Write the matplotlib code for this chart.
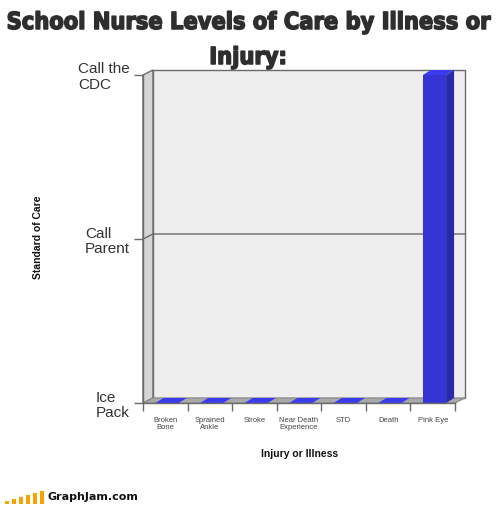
import matplotlib
matplotlib.use('Agg')
import matplotlib.pyplot as plt
from matplotlib.patches import Polygon, Rectangle
import matplotlib.patheffects as pe

categories = ["Broken\nBone", "Sprained\nAnkle", "Stroke", "Near Death\nExperience",
              "STD", "Death", "Pink Eye"]
care_levels = [0, 0, 0, 0, 0, 0, 2]
level_labels = ["Ice\nPack", "Call\nParent", "Call the\nCDC"]
title_lines = ["School Nurse Levels of Care by Illness or", "Injury:"]
x_title = "Injury or Illness"
y_title = "Standard of Care"
logo_heights = [3, 5, 7, 9, 11, 13]

W, H = 500, 505
fig = plt.figure(figsize=(W / 100, H / 100), dpi=100)
fig.patch.set_facecolor('white')

# front plane of the pseudo-3D chart
ax_l, ax_r, ax_t, ax_b = 143, 455, 75, 403
ax = fig.add_axes([ax_l / W, (H - ax_b) / H, (ax_r - ax_l) / W, (ax_b - ax_t) / H])
n = len(categories)
ymax = len(level_labels) - 1
ax.set_xlim(0, n)
ax.set_ylim(0, ymax)
ax.patch.set_visible(False)

# depth offsets (pixels -> data units)
ux = n / (ax_r - ax_l)
uy = ymax / (ax_b - ax_t)
wdx, wdy = 10 * ux, 5 * uy
bdx, bdy = 8 * ux, 5 * uy

edge = '#6a6a6a'
# back wall
ax.add_patch(Rectangle((wdx, wdy), n, ymax, fc='#eeeeee', ec=edge, lw=1,
                       clip_on=False, zorder=0.5))
# left wall
ax.add_patch(Polygon([(0, 0), (wdx, wdy), (wdx, ymax + wdy), (0, ymax)],
                     closed=True, fc='#d5d5d5', ec=edge, lw=1, clip_on=False, zorder=0.6))
# floor
ax.add_patch(Polygon([(0, 0), (n, 0), (n + wdx, wdy), (wdx, wdy)],
                     closed=True, fc='#a8a8a8', ec='#8a8a8a', lw=0.8, clip_on=False, zorder=0.7))
# gridlines
for lv in range(1, ymax):
    ax.plot([0, wdx, n + wdx], [lv, lv + wdy, lv + wdy], color=edge, lw=1,
            clip_on=False, zorder=0.8)

# bars
bw, boff = 0.52, 0.28
for i, v in enumerate(care_levels):
    x0 = i + boff
    x1 = x0 + bw
    ax.add_patch(Polygon([(x0, v), (x1, v), (x1 + bdx, v + bdy), (x0 + bdx, v + bdy)],
                         closed=True, fc='#3c3cef', ec='none', clip_on=False, zorder=1.2))
    if v > 0:
        ax.add_patch(Polygon([(x1, 0), (x1 + bdx, bdy), (x1 + bdx, v + bdy), (x1, v)],
                             closed=True, fc='#2a2aa8', ec='none', clip_on=False, zorder=1.1))
        ax.add_patch(Rectangle((x0, 0), bw, v, fc='#3535d6', ec='none',
                               clip_on=False, zorder=1.15))

# spines
for s in ['top', 'right']:
    ax.spines[s].set_visible(False)
for s in ['left', 'bottom']:
    ax.spines[s].set_color(edge)
    ax.spines[s].set_linewidth(1)

# y ticks
ax.set_yticks(range(ymax + 1))
ax.set_yticklabels(level_labels, fontsize=11, color='#333333', family='Liberation Sans',
                   linespacing=1.15)
for t in ax.get_yticklabels():
    t.set_multialignment('left')
ax.tick_params(axis='y', length=6.5, width=1, color=edge, pad=3)

# x ticks
ax.set_xticks(range(n + 1))
ax.set_xticklabels([''] * (n + 1))
ax.set_xticks([i + 0.5 for i in range(n)], minor=True)
ax.set_xticklabels(categories, minor=True, fontsize=5.5, color='#444444',
                   family='Liberation Sans', linespacing=1.1)
ax.tick_params(axis='x', which='major', length=6, width=1, color=edge)
ax.tick_params(axis='x', which='minor', length=0, pad=10)

ax.set_xlabel(x_title, fontsize=7.5, fontweight='bold', family='Liberation Sans', color='#111111')
ax.xaxis.set_label_coords((300 - ax_l) / (ax_r - ax_l), (ax_b - 449) / (ax_b - ax_t))
ax.set_ylabel(y_title, fontsize=7.5, fontweight='bold', family='Liberation Sans', color='#111111')
ax.yaxis.label.set_verticalalignment('center')
ax.yaxis.set_label_coords((38 - ax_l) / (ax_r - ax_l), (ax_b - 237) / (ax_b - ax_t))

# title (fit first line to reference width)
tkw = dict(ha='center', va='top', fontweight='bold', fontstretch='condensed',
           family=['DejaVu Sans', 'Liberation Sans'], color='#2e2e2e', zorder=10,
           path_effects=[pe.withStroke(linewidth=1.1, foreground='#2e2e2e')])
t1 = fig.text(0.496, 1 - 11 / H, title_lines[0], fontsize=20, **tkw)
fig.canvas.draw()
wpx = t1.get_window_extent().width
fs = 20 * 484 / wpx
t1.set_fontsize(fs)
t2 = fig.text(0.496, 1 - 46 / H, title_lines[1], fontsize=fs, **tkw)

# GraphJam logo
for k, h in enumerate(logo_heights):
    fig.patches.append(Rectangle(((5 + 7 * k) / W, 1 / H), 3.5 / W, h / H,
                                 transform=fig.transFigure, fc='#f5a300', ec='none'))
fig.text(48 / W, 3 / H, "GraphJam.com", ha='left', va='bottom', fontsize=8,
         fontweight='bold', family='DejaVu Sans', color='#111111')

fig.savefig('out.png', dpi=100, facecolor='white')
